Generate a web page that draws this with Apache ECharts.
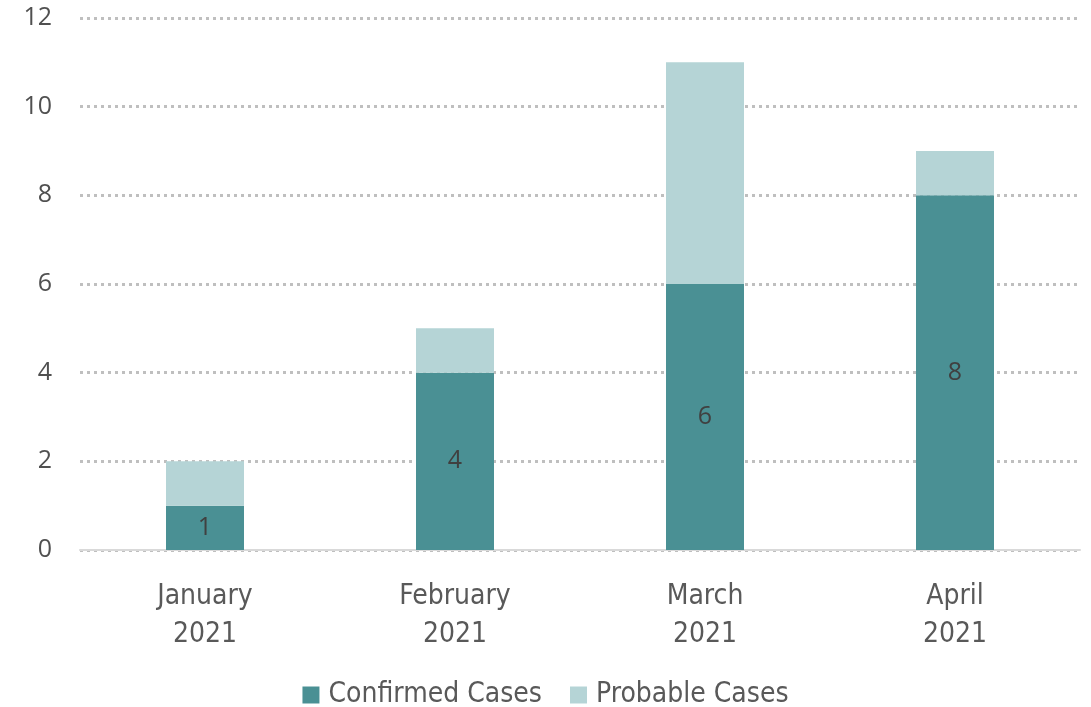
<!DOCTYPE html>
<html><head><meta charset="utf-8">
<script src="https://cdn.jsdelivr.net/npm/echarts@6/dist/echarts.min.js"></script>
<style>html,body{margin:0;padding:0;background:#fff}#c{width:1091px;height:707px}</style>
</head><body><div id="c"></div>
<script>
const categories = ['January\n2021', 'February\n2021', 'March\n2021', 'April\n2021'];
const confirmedCases = [1, 4, 6, 8];
const probableCases = [1, 1, 5, 1];
const yTicks = [0, 2, 4, 6, 8, 10, 12];

const narrow = '"DejaVu Sans Condensed", "Liberation Sans Narrow", sans-serif';
const regular = '"Open Sans", "Noto Sans", sans-serif';
const chart = echarts.init(document.getElementById('c'));
chart.setOption({
  animation: false,
  grid: { left: 80, right: 11, top: 18, bottom: 157, containLabel: false },
  legend: {
    bottom: -7, left: 'center', itemWidth: 17, itemHeight: 17, itemGap: 28, icon: 'rect',
    textStyle: { fontFamily: narrow, fontSize: 28, color: '#595959', padding: [0, 0, 0, 4] },
    data: ['Confirmed Cases', 'Probable Cases']
  },
  xAxis: {
    type: 'category', data: categories,
    axisLine: { lineStyle: { color: '#D9D9D9', width: 2 } },
    axisTick: { show: false },
    axisLabel: { fontFamily: narrow, fontSize: 28, color: '#595959', lineHeight: 38, margin: 28 }
  },
  yAxis: {
    type: 'value', min: yTicks[0], max: yTicks[yTicks.length - 1], interval: 2,
    axisLine: { show: false }, axisTick: { show: false },
    axisLabel: { fontFamily: regular, fontSize: 25, color: '#505050', margin: 28 },
    splitLine: { lineStyle: { color: '#BFBFBF', width: 3, type: [3, 4] } }
  },
  series: [
    { name: 'Confirmed Cases', type: 'bar', stack: 'a', data: confirmedCases, barWidth: 78,
      itemStyle: { color: '#4A9094' },
      label: { show: true, position: 'inside', fontFamily: regular, fontSize: 25, color: '#404040' } },
    { name: 'Probable Cases', type: 'bar', stack: 'a', data: probableCases, barWidth: 78,
      itemStyle: { color: '#B5D4D6' } }
  ]
});
</script></body></html>
